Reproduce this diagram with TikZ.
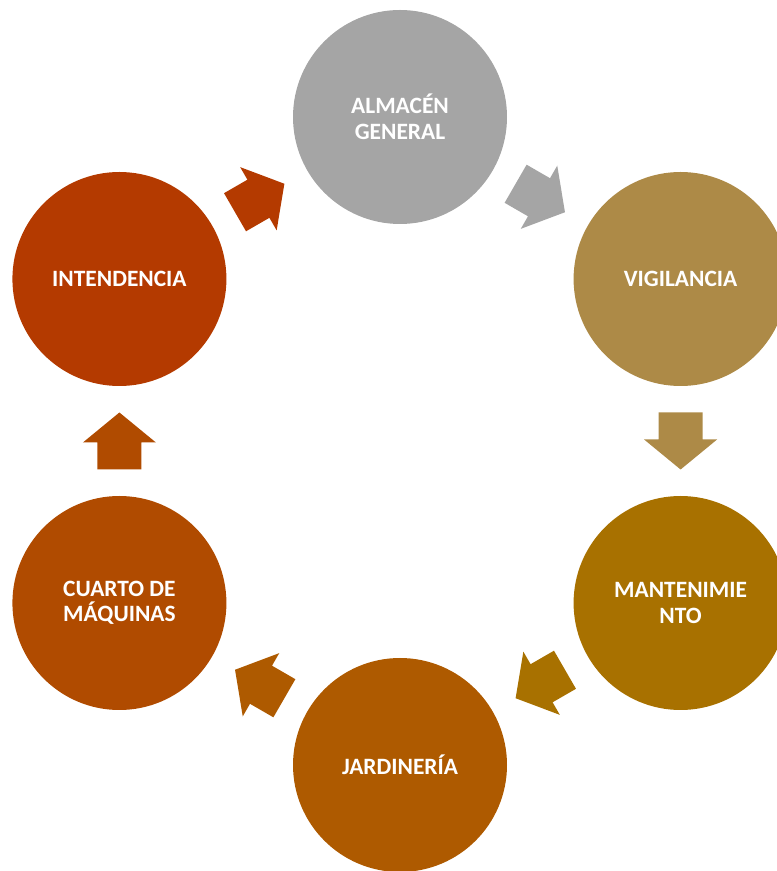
\documentclass[tikz,border=0pt]{standalone}
\usepackage{fontspec}
\setmainfont{Carlito}
\usetikzlibrary{calc}
\definecolor{cAlm}{HTML}{A5A5A5}
\definecolor{cVig}{HTML}{AD8A47}
\definecolor{cMan}{HTML}{A87100}
\definecolor{cJar}{HTML}{AE5A00}
\definecolor{cCua}{HTML}{B04B00}
\definecolor{cInt}{HTML}{B43A00}
\tikzset{
  stage/.style={circle, minimum size=214pt, inner sep=0pt, text=white,
    font=\bfseries\fontsize{23.4}{25.5}\selectfont, align=center},
  blockarr/.pic={\fill (-28.5,-22) -- (-1.5,-22) -- (-1.5,-36.5) -- (28.5,0)
      -- (-1.5,36.5) -- (-1.5,22) -- (-28.5,22) -- cycle;}
}
\begin{document}
\begin{tikzpicture}[x=1pt,y=1pt]
\useasboundingbox (0,0) rectangle (777,871);
\coordinate (C) at (400,430);
\node[stage, fill=cAlm] (alm) at ($(C)+(90:324)$) {ALMACÉN\\GENERAL};
\node[stage, fill=cVig] (vig) at ($(C)+(30:324)$) {VIGILANCIA};
\node[stage, fill=cMan] (man) at ($(C)+(-30:324)$) {MANTENIMIE\\NTO};
\node[stage, fill=cJar] (jar) at ($(C)+(-90:324)$) {JARDINERÍA};
\node[stage, fill=cCua] (cua) at ($(C)+(-150:324)$) {CUARTO DE\\MÁQUINAS};
\node[stage, fill=cInt] (int) at ($(C)+(150:324)$) {INTENDENCIA};
\pic[fill=cAlm, rotate=-30] (a1) at ($(alm)!0.5!(vig)$) {blockarr};
\pic[fill=cVig, rotate=-90] (a2) at ($(vig)!0.5!(man)$) {blockarr};
\pic[fill=cMan, rotate=-150] (a3) at ($(man)!0.5!(jar)$) {blockarr};
\pic[fill=cJar, rotate=150] (a4) at ($(jar)!0.5!(cua)$) {blockarr};
\pic[fill=cCua, rotate=90] (a5) at ($(cua)!0.5!(int)$) {blockarr};
\pic[fill=cInt, rotate=30] (a6) at ($(int)!0.5!(alm)$) {blockarr};
\end{tikzpicture}
\end{document}
